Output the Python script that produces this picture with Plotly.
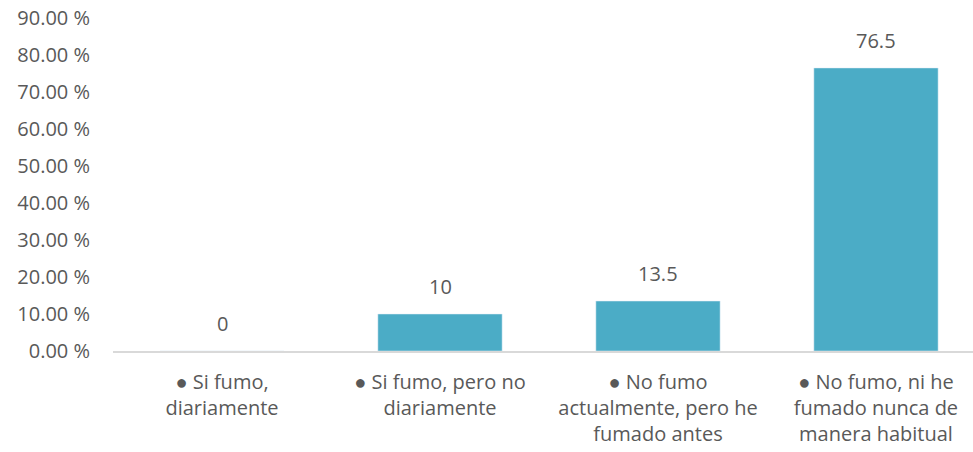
import plotly.graph_objects as go

categories = [
    "● Si fumo,<br>diariamente",
    "● Si fumo, pero no<br>diariamente",
    "● No fumo<br>actualmente, pero he<br>fumado antes",
    "● No fumo, ni he<br>fumado nunca de<br>manera habitual",
]
values = [0, 10, 13.5, 76.5]
value_labels = ["0", "10", "13.5", "76.5"]
y_ticks = [0, 10, 20, 30, 40, 50, 60, 70, 80, 90]
y_tick_labels = [f"{v:.2f} %" for v in y_ticks]

FONT = "Open Sans"
TXT = "#595959"
FS = 20

xs = list(range(len(categories)))

fig = go.Figure(
    go.Bar(
        x=xs,
        y=values,
        marker=dict(color="#4BACC6"),
        width=0.57,
        cliponaxis=False,
    )
)

for x, v, lab in zip(xs, values, value_labels):
    fig.add_annotation(
        x=x, y=v, text=lab, showarrow=False,
        yanchor="bottom", yshift=12,
        font=dict(family=FONT, size=FS, color=TXT),
    )

fig.update_layout(
    width=973,
    height=452,
    margin=dict(l=113, r=0, t=18, b=101),
    plot_bgcolor="white",
    paper_bgcolor="white",
    showlegend=False,
    font=dict(family=FONT, size=FS, color=TXT),
    xaxis=dict(
        tickmode="array",
        tickvals=xs,
        ticktext=categories,
        range=[-0.5, 3.445],
        showgrid=False,
        showline=True,
        linecolor="#D9D9D9",
        linewidth=1.5,
        ticks="",
        tickfont=dict(family=FONT, size=FS, color=TXT),
        zeroline=False,
        automargin=False,
        ticklabelstandoff=12,
    ),
    yaxis=dict(
        range=[0, 90],
        tickmode="array",
        tickvals=y_ticks,
        ticktext=y_tick_labels,
        showgrid=False,
        showline=False,
        zeroline=False,
        ticks="",
        tickfont=dict(family=FONT, size=FS, color=TXT),
        ticklabelstandoff=22,
        automargin=False,
    ),
)

fig.write_html(
    "out.html",
    config={"displayModeBar": False},
    post_script="document.body.style.margin='0';document.body.style.overflow='hidden';",
)
